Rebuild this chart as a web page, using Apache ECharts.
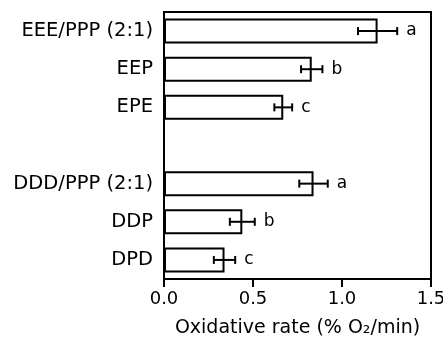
<!DOCTYPE html>
<html><head><meta charset="utf-8">
<script src="https://cdn.jsdelivr.net/npm/echarts@6/dist/echarts.min.js"></script>
<style>html,body{margin:0;padding:0;background:#fff}#c{width:443px;height:337px}</style>
</head><body><div id="c"></div>
<script>
var categories = ['EEE/PPP (2:1)', 'EEP', 'EPE', '', 'DDD/PPP (2:1)', 'DDP', 'DPD'];
var rates = [1.20, 0.83, 0.67, null, 0.84, 0.44, 0.34];
var errors = [0.11, 0.06, 0.05, null, 0.08, 0.07, 0.06];
var letters = ['a', 'b', 'c', '', 'a', 'b', 'c'];
var xTicks = [0, 0.5, 1.0, 1.5];

var errData = [];
var errLetters = [];
for (var i = 0; i < categories.length; i++) {
  if (rates[i] != null) {
    errData.push([i, rates[i] - errors[i], rates[i] + errors[i]]);
    errLetters.push(letters[i]);
  }
}
var FONT = 'DejaVu Sans';
var chart = echarts.init(document.getElementById('c'), null, {renderer: 'canvas'});
chart.setOption({
  animation: false,
  grid: {left: 164, right: 12, top: 12, bottom: 58, show: true, borderColor: '#000', borderWidth: 2,
    backgroundColor: 'transparent', containLabel: false, outerBoundsMode: 'none'},
  xAxis: {
    type: 'value', min: 0, max: 1.5, interval: 0.5,
    axisLine: {show: true, onZero: false, lineStyle: {color: '#000', width: 2}},
    axisTick: {show: true, inside: false, length: 8, lineStyle: {color: '#000', width: 2}},
    splitLine: {show: false},
    axisLabel: {color: '#000', fontFamily: FONT, fontSize: 18, margin: 11,
      formatter: function (v) { return v.toFixed(1); }},
    name: 'Oxidative rate (% O\u2082/min)', nameLocation: 'middle', nameGap: 40,
    nameTextStyle: {color: '#000', fontFamily: FONT, fontSize: 19}
  },
  yAxis: {
    type: 'category', data: categories, inverse: true,
    axisLine: {show: true, lineStyle: {color: '#000', width: 2}},
    axisTick: {show: false},
    axisLabel: {color: '#000', fontFamily: FONT, fontSize: 19.5, margin: 11}
  },
  series: [{
    type: 'bar', data: rates, barWidth: 25,
    itemStyle: {color: '#fff', borderColor: '#000', borderWidth: 2}
  }, {
    type: 'custom', data: errData,
    encode: {x: [1, 2], y: 0},
    renderItem: function (params, api) {
      var lo = api.coord([api.value(1), api.value(0)]);
      var hi = api.coord([api.value(2), api.value(0)]);
      var y = lo[1], h = 4;
      var st = {stroke: '#000', lineWidth: 2};
      return {type: 'group', children: [
        {type: 'line', shape: {x1: lo[0], y1: y, x2: hi[0], y2: y}, style: st},
        {type: 'line', shape: {x1: lo[0], y1: y - h, x2: lo[0], y2: y + h}, style: st},
        {type: 'line', shape: {x1: hi[0], y1: y - h, x2: hi[0], y2: y + h}, style: st},
        {type: 'text', x: hi[0] + 9, y: y,
          style: {text: errLetters[params.dataIndex], fill: '#000', fontFamily: FONT, fontSize: 17,
            align: 'left', verticalAlign: 'middle'}}
      ]};
    },
    z: 5
  }]
});
</script></body></html>
